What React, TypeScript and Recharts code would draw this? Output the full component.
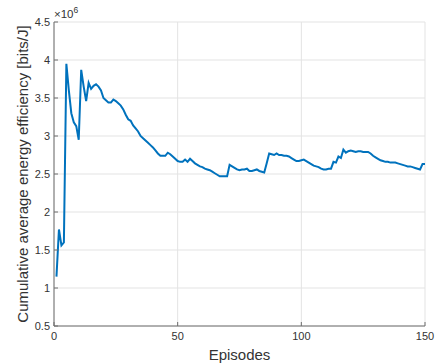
import React from 'react';
import { LineChart, Line, XAxis, YAxis, CartesianGrid } from 'recharts';

// Cumulative average energy efficiency, in units of 10^6 bits/J
const efficiency: number[] = [
  1.15, 1.77, 1.56, 1.60, 3.95, 3.60, 3.30, 3.18, 3.13, 2.95,
  3.87, 3.65, 3.46, 3.70, 3.62, 3.66, 3.68, 3.65, 3.60, 3.50,
  3.47, 3.44, 3.44, 3.48, 3.46, 3.43, 3.40, 3.35, 3.28, 3.22,
  3.20, 3.14, 3.10, 3.06, 3.00, 2.97, 2.94, 2.91, 2.88, 2.85,
  2.81, 2.77, 2.74, 2.74, 2.74, 2.78, 2.76, 2.73, 2.70, 2.67,
  2.66, 2.66, 2.69, 2.66, 2.70, 2.67, 2.64, 2.62, 2.60, 2.59,
  2.57, 2.56, 2.55, 2.53, 2.51, 2.49, 2.47, 2.47, 2.47, 2.47,
  2.62, 2.60, 2.58, 2.56, 2.55, 2.56, 2.56, 2.57, 2.54, 2.54,
  2.55, 2.56, 2.54, 2.53, 2.52, 2.64, 2.77, 2.76, 2.75, 2.77,
  2.75, 2.75, 2.74, 2.74, 2.73, 2.71, 2.69, 2.67, 2.67, 2.68,
  2.69, 2.67, 2.65, 2.63, 2.61, 2.60, 2.59, 2.57, 2.56, 2.56,
  2.57, 2.57, 2.66, 2.65, 2.73, 2.71, 2.82, 2.78, 2.80, 2.81,
  2.80, 2.79, 2.80, 2.80, 2.79, 2.79, 2.79, 2.77, 2.74, 2.72,
  2.70, 2.68, 2.67, 2.66, 2.66, 2.65, 2.65, 2.65, 2.64, 2.63,
  2.62, 2.61, 2.60, 2.60, 2.59, 2.58, 2.57, 2.56, 2.63, 2.63,
];
const episodes: number[] = efficiency.map((_, i) => i + 1);

const xTicks = [0, 50, 100, 150];
const yTicks = [0.5, 1, 1.5, 2, 2.5, 3, 3.5, 4, 4.5];

const yLabel = 'Cumulative average energy efficiency [bits/J]';
const xLabel = 'Episodes';

const data = episodes.map((e, i) => ({ episode: e, value: efficiency[i] }));

const FONT = 'Liberation Sans, Arial, Helvetica, sans-serif';
const TEXT = '#333333';
const AXIS = '#6e6e6e';

const YTitle = (props: any) => {
  const vb = props.viewBox || {};
  const cy = vb.y + vb.height / 2;
  const right = vb.x + vb.width;
  return (
    <g>
      <text
        x={22}
        y={cy}
        transform={`rotate(-90, 22, ${cy})`}
        textAnchor="middle"
        dominantBaseline="central"
        fontSize={15}
        fontFamily={FONT}
        fill={TEXT}
      >
        {yLabel}
      </text>
      <text x={right} y={vb.y - 4} fontSize={11.5} fontFamily={FONT} fill={TEXT}>
        ×10
        <tspan fontSize={8.5} dy={-5}>6</tspan>
      </text>
    </g>
  );
};

export default function App() {
  return (
    <div style={{ position: 'absolute', left: 0, top: 0, background: '#fff' }}>
      <LineChart
        width={448}
        height={364}
        data={data}
        margin={{ top: 22, right: 23, bottom: 0, left: 0 }}
      >
        <CartesianGrid stroke="#e3e3e3" strokeWidth={1} />
        <XAxis
          dataKey="episode"
          type="number"
          domain={[0, 150]}
          ticks={xTicks}
          height={38}
          stroke={AXIS}
          tickSize={-4}
          tickMargin={10}
          tick={{ fontSize: 11, fontFamily: FONT, fill: TEXT }}
          label={{ value: xLabel, position: 'insideBottom', offset: 4, fontSize: 15, fontFamily: FONT, fill: TEXT }}
        />
        <XAxis
          xAxisId="t"
          dataKey="episode"
          type="number"
          orientation="top"
          domain={[0, 150]}
          ticks={xTicks}
          height={0}
          stroke={AXIS}
          tickSize={-4}
          tick={() => <g />}
        />
        <YAxis
          type="number"
          domain={[0.5, 4.5]}
          ticks={yTicks}
          width={54}
          stroke={AXIS}
          tickSize={-4}
          tickMargin={8}
          tick={{ fontSize: 11, fontFamily: FONT, fill: TEXT }}
          label={<YTitle />}
        />
        <YAxis
          yAxisId="r"
          orientation="right"
          type="number"
          domain={[0.5, 4.5]}
          ticks={yTicks}
          width={0}
          stroke={AXIS}
          tickSize={-4}
          tick={() => <g />}
        />
        <Line
          type="linear"
          dataKey="value"
          stroke="#0072BD"
          strokeWidth={2}
          dot={false}
          isAnimationActive={false}
        />
      </LineChart>
    </div>
  );
}
